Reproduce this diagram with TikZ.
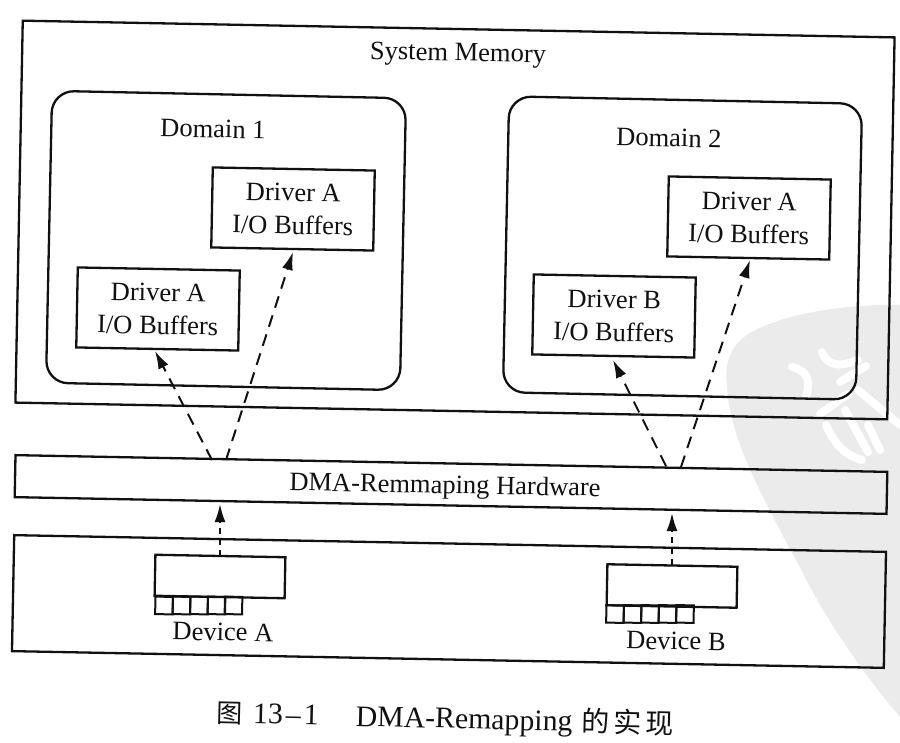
\documentclass[tikz,border=0pt]{standalone}
\usepackage{fontspec}
\setmainfont{Liberation Serif}
\newfontfamily\cjk{Noto Sans CJK SC}
\usetikzlibrary{arrows.meta}
\definecolor{ink}{HTML}{111111}
\definecolor{wmgray}{HTML}{EBEBEB}
\tikzset{
  outlinebox/.style={draw=ink,line width=2.3pt,rectangle,inner sep=0pt,text=ink,align=center,font=\fontsize{26.5}{33}\selectfont},
  plainbox/.style={outlinebox,rotate=-1.1},
  dombox/.style={outlinebox,rounded corners=22pt,rotate=-1.2},
  buf/.style={plainbox,minimum width=162pt,minimum height=80pt},
  cellbox/.style={plainbox,line width=2pt,minimum width=17.4pt,minimum height=17.5pt},
  devtop/.style={plainbox,minimum width=130pt,minimum height=41pt},
  textlabel/.style={inner sep=0pt,text=ink,font=\fontsize{26.5}{30}\selectfont,rotate=-1.1},
  flowline/.style={draw=ink,line width=2pt,dash pattern=on 12pt off 8pt,-{Latex[length=18pt,width=11pt]}},
  shortline/.style={draw=ink,line width=2pt,dash pattern=on 6pt off 5pt,-{Latex[length=18pt,width=11pt]}},
  wmstroke/.style={draw=white,line width=8pt,line cap=round,line join=round}
}
\begin{document}
\begin{tikzpicture}[x=1pt,y=-1pt]
\useasboundingbox (0,0) rectangle (900,743);
\fill[white] (0,0) rectangle (900,743);
% watermark
\fill[wmgray] (900,305) .. controls (860,304) and (790,310) .. (750,333)
  .. controls (730,345) and (724,365) .. (727,385)
  .. controls (728,425) and (750,470) .. (762,495)
  .. controls (780,530) and (790,550) .. (800,567)
  .. controls (820,610) and (860,670) .. (900,717) -- cycle;
\draw[wmstroke] (792,367) .. controls (805,370) and (812,378) .. (806,396);
\draw[wmstroke] (822,352) .. controls (828,368) and (842,366) .. (858,360);
\draw[wmstroke] (840,382) -- (866,366);
\draw[wmstroke] (858,390) -- (900,425);
\draw[wmstroke] (820,414) -- (848,394);
\draw[wmstroke] (826,425) .. controls (835,445) and (845,455) .. (862,460);
\draw[wmstroke] (845,410) -- (868,452);
\draw[wmstroke] (868,425) -- (880,450);

\node[plainbox,minimum width=872pt,minimum height=382pt] (sys) at (455,220) {};
\node[textlabel] (systitle) at (458,55) {System Memory};
\node[dombox,minimum width=354pt,minimum height=292pt] (dom1) at (226,240.5) {};
\node[textlabel] (dom1title) at (213,129) {Domain 1};
\node[dombox,minimum width=353pt,minimum height=296pt] (dom2) at (682.5,248) {};
\node[textlabel] (dom2title) at (669,138) {Domain 2};

\node[buf] (a2) at (293,209) {Driver A\\I/O Buffers};
\node[buf] (a1) at (158,309) {Driver A\\I/O Buffers};
\node[buf] (c2) at (749,218) {Driver A\\I/O Buffers};
\node[buf] (b1) at (614,316) {Driver B\\I/O Buffers};

\node[plainbox,minimum width=872pt,minimum height=42pt] (hw) at (451,484.5) {};
\node[textlabel] (hwtitle) at (445,487) {DMA-Remmaping Hardware};
\node[plainbox,minimum width=872pt,minimum height=116pt] (bus) at (449,601.5) {};

\node[devtop] (deva) at (220,576.5) {};
\foreach \i/\x in {1/164,2/181.5,3/199,4/216.5,5/233.5}
  \node[cellbox] (ac\i) at (\x,605.5) {};
\node[textlabel] (devalabel) at (223,632) {Device A};

\node[devtop] (devb) at (672,586) {};
\foreach \i/\x in {1/615,2/632.5,3/650,4/667.5,5/685}
  \node[cellbox] (bc\i) at (\x,614) {};
\node[textlabel] (devblabel) at (676,641) {Device B};

\coordinate (h1) at (212,460);
\coordinate (h2) at (226,460);
\coordinate (h3) at (666,466);
\coordinate (h4) at (681,467);
\coordinate (t1) at (155,351);
\coordinate (t2) at (293,252);
\coordinate (t3) at (613,360);
\coordinate (t4) at (750,260);
\coordinate (ha) at (220,504);
\coordinate (hb) at (672,513);
\coordinate (da) at (220,556);
\coordinate (db) at (672,565);
\draw[flowline] (h1) -- (t1);
\draw[flowline] (h2) -- (t2);
\draw[flowline] (h3) -- (t3);
\draw[flowline] (h4) -- (t4);
\draw[shortline] (da) -- (ha);
\draw[shortline] (db) -- (hb);

\node[inner sep=0pt,text=ink,font=\fontsize{29.8}{30}\selectfont,anchor=west,rotate=-1.4] (cap) at (217,714)
  {{\cjk\fontsize{26}{30}\selectfont 图}\hspace{10pt}13\kern3pt--\kern3pt1\hspace{37pt}DMA-Remapping\hspace{9pt}{\cjk\fontsize{28}{30}\selectfont 的\kern4pt 实\kern4pt 现}};
\end{tikzpicture}
\end{document}
